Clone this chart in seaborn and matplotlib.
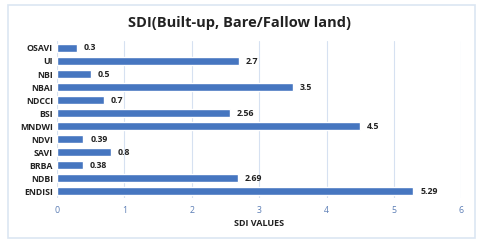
import matplotlib
matplotlib.use("Agg")
import matplotlib.pyplot as plt
import seaborn as sns
import pandas as pd
from matplotlib.patches import Rectangle

indices = ["OSAVI", "UI", "NBI", "NBAI", "NDCCI", "BSI", "MNDWI", "NDVI",
           "SAVI", "BRBA", "NDBI", "ENDISI"]
sdi_values = [0.3, 2.7, 0.5, 3.5, 0.7, 2.56, 4.5, 0.39, 0.8, 0.38, 2.69, 5.29]
value_labels = ["0.3", "2.7", "0.5", "3.5", "0.7", "2.56", "4.5", "0.39",
                "0.8", "0.38", "2.69", "5.29"]

df = pd.DataFrame({"index": indices, "sdi": sdi_values})

sns.set_style("white")
plt.rcParams["font.family"] = ["Open Sans", "DejaVu Sans"]

fig = plt.figure(figsize=(4.8, 2.44), dpi=100)
ax = fig.add_axes([0.119, 0.19, 0.842, 0.64])

sns.barplot(data=df, x="sdi", y="index", color="#4676C0", width=0.6,
            saturation=1, ax=ax, zorder=3)

for i, (v, lab) in enumerate(zip(sdi_values, value_labels)):
    ax.text(v + 0.1, i, lab, va="center", ha="left", fontsize=6.3,
            fontweight="bold", color="#222222")

ax.set_xlim(0, 6)
ax.set_xticks(range(7))
ax.tick_params(axis="x", labelsize=6.3, colors="#5B7DB5", length=0, pad=6)
ax.tick_params(axis="y", labelsize=6.3, length=0, pad=3)
for t in ax.get_yticklabels():
    t.set_fontweight("bold")
    t.set_color("#222222")
ax.set_ylabel("")
ax.set_xlabel("SDI VALUES", fontsize=6.5, fontweight="bold", color="#222222",
              labelpad=3)
ax.grid(axis="x", color="#D6E1F1", linewidth=0.8, zorder=0)
sns.despine(ax=ax, left=True, bottom=True, top=True, right=True)

fig.text(0.5, 0.905, "SDI(Built-up, Bare/Fallow land)", ha="center",
         va="center", fontsize=10.5, fontweight="bold", color="#222222")

fig.patches.append(Rectangle((0.017, 0.025), 0.972, 0.955,
                             transform=fig.transFigure, fill=False,
                             edgecolor="#DCE6F2", linewidth=1.2))

fig.savefig("out.png", dpi=100)
